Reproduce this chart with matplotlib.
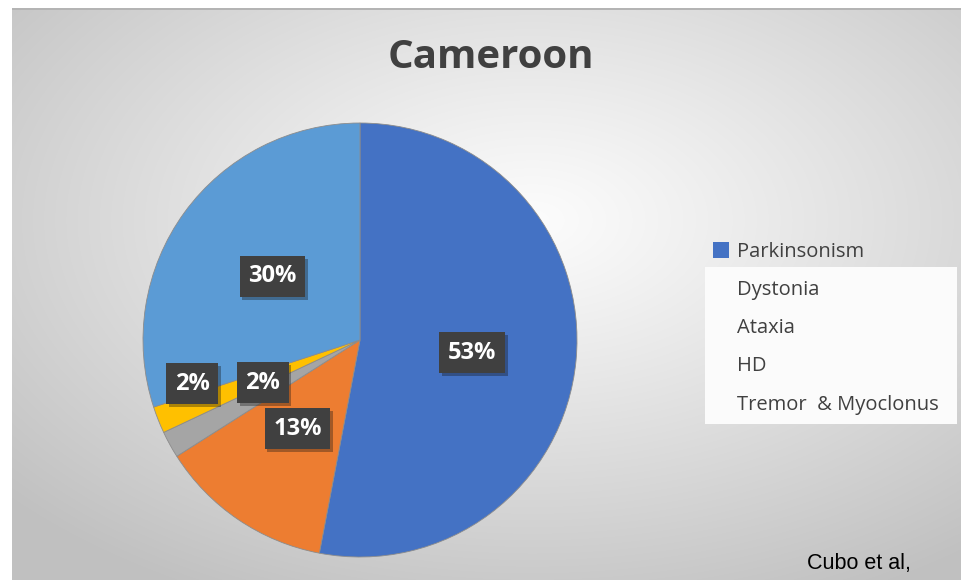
import numpy as np
import matplotlib.pyplot as plt
import matplotlib.patheffects as pe
from matplotlib.patches import Rectangle

# data
labels = ['Parkinsonism', 'Dystonia', 'Ataxia', 'HD', 'Tremor  & Myoclonus']
values = [53, 13, 2, 2, 30]
colors = ['#4472C4', '#ED7D31', '#A5A5A5', '#FFC000', '#5B9BD5']

# small nudges for the data labels (radius as fraction, angle in degrees)
label_r = [0.52, 0.5, 0.49, 0.8, 0.5]
label_da = [-1, -1, -5, -7, 0]

W, H = 961, 580
fig = plt.figure(figsize=(W / 100, H / 100), dpi=100)
fig.patch.set_facecolor('white')

# radial grey background of the chart area
bg = fig.add_axes([12 / W, 0, 1 - 12 / W, (H - 10) / H])
bw, bh = W - 12, H - 10
yy, xx = np.mgrid[0:bh, 0:bw]
dx = (xx - 520) / (bw / 2)
dy = (yy - 210) / (bh / 2)
d = np.sqrt(dx ** 2 + dy ** 2) / 1.6
shade = np.clip(252 - 65 * d ** 1.1, 192, 252) / 255
bg.imshow(np.dstack([shade] * 3), aspect='auto', extent=(0, bw, bh, 0))
bg.axis('off')
# thin darker top border
fig.add_artist(Rectangle((12 / W, 1 - 10 / H), 1 - 12 / W, 2.5 / H,
                         transform=fig.transFigure, facecolor='#b4b4b4',
                         edgecolor='none', zorder=2))

# pie
R, cx, cy = 217, 360, 340
ax = fig.add_axes([(cx - R) / W, (H - cy - R) / H, 2 * R / W, 2 * R / H])
wedges, _ = ax.pie(values, colors=colors, startangle=90, counterclock=False,
                   radius=1, wedgeprops=dict(edgecolor='#8c8c8c', linewidth=0.6))
ax.set_xlim(-1, 1)
ax.set_ylim(-1, 1)

for w, v, r, da in zip(wedges, values, label_r, label_da):
    ang = np.deg2rad((w.theta1 + w.theta2) / 2 + da)
    t = ax.text(r * np.cos(ang), r * np.sin(ang), f'{v}%', ha='center', va='center',
                color='white', fontsize=17, fontweight='bold', family='Open Sans',
                bbox=dict(boxstyle='square,pad=0.36', facecolor='#404040', edgecolor='none'),
                zorder=5)
    t.get_bbox_patch().set_path_effects([pe.SimplePatchShadow(offset=(2, -2), alpha=0.35),
                                         pe.Normal()])

# legend: only the first marker shows, the rest sit on a white box
fig.add_artist(Rectangle((705 / W, 1 - 424 / H), 252 / W, (424 - 267) / H,
                         transform=fig.transFigure, facecolor='#fbfbfb',
                         edgecolor='none', zorder=3))
leg = fig.legend(wedges, labels, loc='upper left', bbox_to_anchor=(713 / W, 1 - 242 / H),
                 frameon=False, prop={'family': 'Open Sans', 'size': 14.5},
                 handlelength=0.8, handleheight=0.8, handletextpad=0.4,
                 labelspacing=0.9, borderpad=0, borderaxespad=0)
for txt in leg.get_texts():
    txt.set_color('#404040')
for h in leg.legend_handles[1:]:
    h.set_visible(False)
leg.legend_handles[0].set_edgecolor('none')

fig.text(491 / W, 1 - 57 / H, 'Cameroon', ha='center', va='center',
         fontsize=29, fontweight='bold', family='Open Sans', color='#404040')
fig.text(807 / W, 1 - 563 / H, 'Cubo et al,', ha='left', va='center',
         fontsize=15.5, family='Liberation Sans', color='black')

fig.savefig('out.png', dpi=100)
